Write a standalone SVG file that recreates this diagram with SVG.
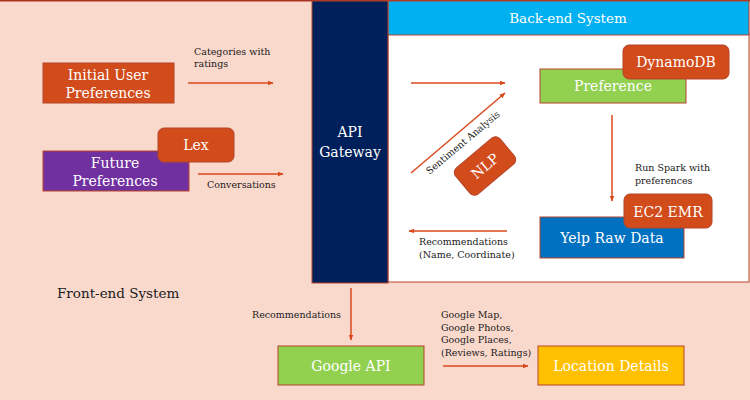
<svg xmlns="http://www.w3.org/2000/svg" width="750" height="400" viewBox="0 0 750 400">
<defs>
<marker id="ah" viewBox="0 0 10 10" refX="9" refY="5" markerWidth="6" markerHeight="6" markerUnits="userSpaceOnUse" orient="auto">
<path d="M0,1 L10,5 L0,9 z" fill="#D8491D"/>
</marker>
</defs>
<style>
.t{font-family:"DejaVu Serif","Liberation Serif",serif;fill:#fff;text-anchor:middle}
.big{font-size:14px}
.lbl{font-family:"DejaVu Serif","Liberation Serif",serif;font-size:9.5px;fill:#1a1a1a}
.ln{stroke:#D8491D;stroke-width:1.5;fill:none;marker-end:url(#ah)}
.bd{stroke:#B5442A;stroke-width:1}
.org{fill:#D24B1B}
</style>
<rect x="0" y="0" width="750" height="400" fill="#FAD9CD"/>
<line x1="0" y1="0.7" x2="750" y2="0.7" stroke="#A8321F" stroke-width="1.5"/>
<g id="backend">
<rect x="388" y="34" width="361" height="248" fill="#FFFFFF" class="bd"/>
<rect x="388" y="1" width="361" height="34" fill="#00B0F0" class="bd"/>
<text class="t" x="568" y="23" style="font-size:13.5px">Back-end System</text>
</g>
<g id="api-gateway">
<rect x="312" y="1" width="76" height="282" fill="#00205B" class="bd"/>
<text class="t big" x="350" y="137">API</text>
<text class="t big" x="350" y="157">Gateway</text>
</g>
<g id="initial-user-preferences">
<rect x="43" y="63" width="131" height="40" class="org bd"/>
<text class="t big" x="108" y="80">Initial User</text>
<text class="t big" x="108" y="98">Preferences</text>
</g>
<g id="future-preferences">
<rect x="43" y="151" width="146" height="40" fill="#7030A0" class="bd"/>
<text class="t big" x="115" y="168">Future</text>
<text class="t big" x="115" y="186">Preferences</text>
</g>
<g id="lex">
<rect x="158" y="128" width="76" height="34" rx="6" class="org bd"/>
<text class="t big" x="196" y="150">Lex</text>
</g>
<g id="preference">
<rect x="540" y="69" width="146" height="34" fill="#92D050" class="bd"/>
<text class="t big" x="613" y="91">Preference</text>
</g>
<g id="dynamodb">
<rect x="623" y="45" width="106" height="34" rx="6" class="org bd"/>
<text class="t big" x="676" y="67">DynamoDB</text>
</g>
<g id="yelp-raw-data">
<rect x="540" y="217" width="144" height="41" fill="#0070C0" class="bd"/>
<text class="t big" x="612" y="243">Yelp Raw Data</text>
</g>
<g id="ec2-emr">
<rect x="624" y="194" width="88" height="34" rx="6" class="org bd"/>
<text class="t big" x="668" y="217">EC2 EMR</text>
</g>
<g id="nlp" transform="translate(485,166) rotate(-40)">
<rect x="-29" y="-17" width="58" height="34" rx="6" class="org bd"/>
<text class="t big" x="0" y="5">NLP</text>
</g>
<g id="google-api">
<rect x="278" y="346" width="146" height="39" fill="#92D050" class="bd"/>
<text class="t big" x="351" y="371">Google API</text>
</g>
<g id="location-details">
<rect x="538" y="346" width="146" height="39" fill="#FFC000" class="bd"/>
<text class="t big" x="611" y="371">Location Details</text>
</g>
<text class="lbl" x="57" y="298" style="font-size:13.5px">Front-end System</text>
<g id="connectors">
<line class="ln" x1="188" y1="83" x2="273" y2="83"/>
<line class="ln" x1="198" y1="174" x2="283" y2="174"/>
<line class="ln" x1="411" y1="83" x2="505" y2="83"/>
<line class="ln" x1="411" y1="173" x2="505" y2="93"/>
<line class="ln" x1="612" y1="115" x2="612" y2="201"/>
<line class="ln" x1="507" y1="231" x2="409" y2="231"/>
<line class="ln" x1="351" y1="288" x2="351" y2="340"/>
<line class="ln" x1="443" y1="366" x2="528" y2="366"/>
<text class="lbl" x="194" y="55">Categories with</text>
<text class="lbl" x="194" y="67">ratings</text>
<text class="lbl" x="207" y="188">Conversations</text>
<text class="lbl" transform="translate(465,145) rotate(-40)" text-anchor="middle">Sentiment Analysis</text>
<text class="lbl" x="635" y="171">Run Spark with</text>
<text class="lbl" x="635" y="184">preferences</text>
<text class="lbl" x="419" y="245">Recommendations</text>
<text class="lbl" x="419" y="258">(Name, Coordinate)</text>
<text class="lbl" x="252" y="318">Recommendations</text>
<text class="lbl" x="441" y="318">Google Map,</text>
<text class="lbl" x="441" y="331">Google Photos,</text>
<text class="lbl" x="441" y="343">Google Places,</text>
<text class="lbl" x="441" y="356">(Reviews, Ratings)</text>
</g>
</svg>
